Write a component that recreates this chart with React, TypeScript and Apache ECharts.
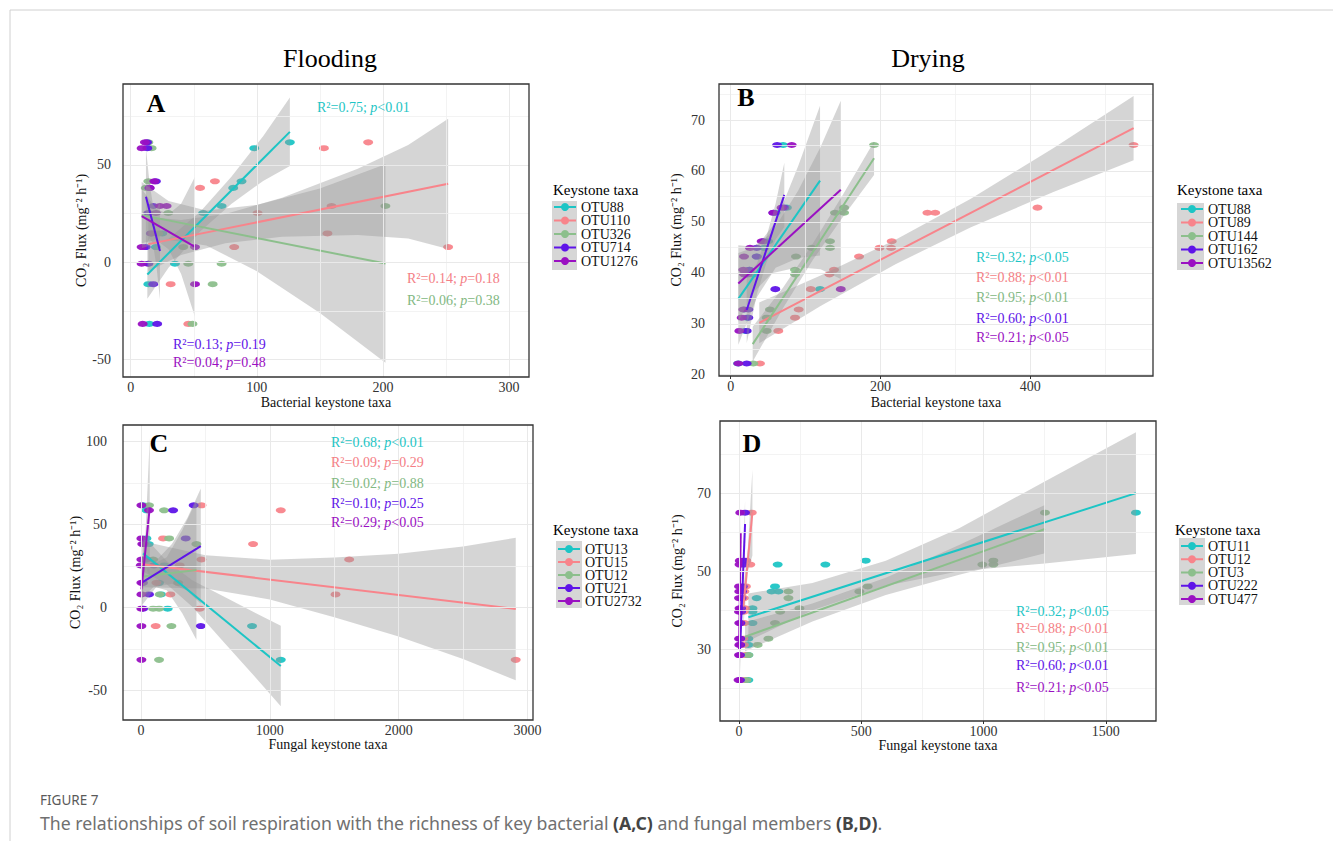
import React, { useEffect, useRef } from 'react';
import * as echarts from 'echarts';

const SERIF = '"Liberation Serif", "Times New Roman", serif';
const SANS = '"Noto Sans", "Open Sans", sans-serif';
const COLORS = ['#1DC5C5', '#F8848B', '#8CBF8C', '#5E14E8', '#9A10C2'];
const TEXT_COLORS = ['#1DC5C5', '#F47E85', '#82B882', '#5E14E8', '#9A10C2'];
const BAND_FILL = 'rgba(150,150,150,0.4)';

// ---------- Panel A: Flooding, bacterial ----------
const taxaA = ['OTU88', 'OTU110', 'OTU326', 'OTU714', 'OTU1276'];
const pointsA = [
  [[126.2, 61.6], [98, 58.6], [87.9, 41.6], [81.3, 38.2], [72.1, 28.9], [57.5, 25.3], [25, 14.8], [20, 7.8], [35.1, -0.8], [14, -11.3], [14.8, -31.7]],
  [[188.3, 61.6], [153.2, 58.6], [66.8, 41.6], [55, 38.2], [159.3, 28.9], [100.6, 25.3], [156, 14.8], [82.1, 7.8], [251.7, 7.8], [14, -0.8], [31.7, -11.3], [45.7, -31.7]],
  [[14, 61.6], [16.6, 58.6], [14, 41.6], [12, 38.2], [202, 28.9], [29.8, 25.3], [22, 14.8], [41.7, 7.8], [45.7, -0.8], [72.1, -0.8], [65, -11.3], [49, -31.7]],
  [[13, 61.6], [13.2, 58.6], [20, 41.6], [15, 38.2], [18, 28.9], [14, 25.3], [16, 14.8], [12, 7.8], [14, -0.8], [17.9, -11.3], [21, -31.7]],
  [[11.3, 61.6], [8.7, 58.6], [18.7, 41.6], [15, 38.2], [28.5, 28.9], [23.2, 28.9], [20, 25.3], [16.6, 14.8], [8.7, 7.8], [51, 7.8], [8.7, -0.8], [51, -11.3], [9.5, -31.7]],
];
const linesA = [
  [[13.2, -6.3], [126.2, 67]],
  [[14, 9.3], [251.7, 40.3]],
  [[8.7, 24.2], [202, -0.7]],
  [[12.1, 33.6], [23.2, 5.8]],
  [[8.7, 23.7], [51, 7.9]],
];
const bandsA = [
  [[13.2, -18.8, 6.2], [30, -2.9, 12.1], [55, 15.8, 25.8], [80, 30, 44], [105, 41.8, 64.8], [126.2, 49.4, 84.6]],
  [[14, -4.7, 23.3], [40, 3.7, 21.7], [75, 9.8, 24.8], [120, 13.1, 33.1], [180, 14, 48], [220, 12.2, 60.2], [251.7, 6.8, 73.8]],
  [[8.7, 7.2, 41.2], [30, 11.5, 31.5], [60, 8.6, 26.6], [100, -4.6, 29.4], [150, -26.1, 37.9], [202, -51.7, 50.3]],
  [[12.1, 8.6, 58.6], [15, 12.3, 40.3], [17.6, 9.8, 29.8], [20.5, -2.4, 27.6], [23.2, -19.2, 30.8]],
  [[8.7, 9.7, 37.7], [20, 11.5, 27.5], [30, 6.7, 24.7], [40, -6, 30], [51, -28.1, 43.9]],
];
const statsA = [['0.75', '<0.01'], ['0.14', '=0.18'], ['0.06', '=0.38'], ['0.13', '=0.19'], ['0.04', '=0.48']];
const xTicksA = [0, 100, 200, 300];
const xMinorA = [50, 150, 250];
const yTicksA = [-50, 0, 50];
const yMinorA = [-25, 25, 75];

// ---------- Panel B: Drying, bacterial ----------
const taxaB = ['OTU88', 'OTU89', 'OTU144', 'OTU162', 'OTU13562'];
const pointsB = [
  [[119.3, 36.8], [60, 51.8], [75, 52.8], [45, 44.9], [25, 40.6], [20, 28.6], [10, 22.2], [35, 43.2], [50, 46.2], [70, 65.1], [30, 39.7], [22, 31.2], [18, 32.8]],
  [[537.9, 65.1], [409.6, 52.8], [262.7, 51.8], [273, 51.8], [215, 46.2], [214.2, 44.9], [198.6, 44.9], [171.4, 43.2], [138, 40.6], [131.8, 39.7], [106.9, 36.8], [90.8, 32.8], [85.9, 31.2], [63.6, 28.6], [39.1, 22.2]],
  [[191.4, 65.1], [151.4, 52.8], [139.3, 51.8], [151.4, 51.8], [132.6, 46.2], [132.6, 44.9], [108.2, 44.9], [87.2, 43.2], [85.9, 40.6], [85.9, 39.7], [52.5, 32.8], [48.1, 31.2], [48.1, 28.6], [30.2, 22.2]],
  [[62, 65.1], [59.6, 36.8], [21.4, 22.2], [21.4, 28.6], [23.6, 31.2], [23.6, 32.8], [34.7, 43.2], [34.7, 44.9], [43.6, 46.2], [57, 51.8], [71.6, 52.8], [25, 40.6], [22, 39.7]],
  [[81.5, 65.1], [147, 36.8], [10.2, 22.2], [11.6, 28.6], [14.7, 31.2], [16.9, 32.8], [17.8, 39.7], [16.9, 40.6], [17.8, 43.2], [25.8, 44.9], [41.4, 46.2], [57, 51.8], [68, 52.8]],
];
const linesB = [
  [[10.2, 34.9], [119.3, 58.1]],
  [[38.2, 30.2], [537.9, 68.4]],
  [[29.4, 26.0], [191.4, 62.5]],
  [[21.4, 32.7], [71.6, 55.3]],
  [[10.2, 37.9], [147, 56.3]],
];
const bandsB = [
  [[10.2, 25.9, 43.9], [35, 35.2, 45.2], [60, 41, 50], [90, 42.9, 60.9], [119.3, 43.4, 72.8]],
  [[38.2, 26.2, 34.2], [120, 33.5, 39.5], [220, 41.7, 46.5], [320, 48.9, 54.5], [430, 55.8, 64.4], [537.9, 62.1, 74.7]],
  [[29.4, 22.6, 29.4], [70, 33.1, 37.1], [110, 42.6, 45.8], [150, 51, 55.4], [191.4, 59.2, 65.8]],
  [[21.4, 26.2, 39.2], [35, 35.8, 41.8], [47, 41.7, 46.7], [60, 46.6, 53.6], [71.6, 49, 61.6]],
  [[10.2, 30.4, 45.4], [30, 36.1, 45.1], [55, 39.9, 47.9], [90, 41.1, 56.1], [120, 40.7, 64.7], [147, 38.8, 73.8]],
];
const statsB = [['0.32', '<0.05'], ['0.88', '<0.01'], ['0.95', '<0.01'], ['0.60', '<0.01'], ['0.21', '<0.05']];
const xTicksB = [0, 200, 400];
const xMinorB = [100, 300, 500];
const yTicksB = [20, 30, 40, 50, 60, 70];
const yMinorB = [25, 35, 45, 55, 65, 75];

// ---------- Panel C: Flooding, fungal ----------
const taxaC = ['OTU13', 'OTU15', 'OTU12', 'OTU21', 'OTU2732'];
const pointsC = [
  [[1085, -31.7], [862, -11.3], [207, -0.8], [42, 58.6], [42, 41.6], [140, 14.8], [155, 7.8], [30, 28.9], [180, 25.3], [16, 61.6], [60, 38.2]],
  [[1085, 58.6], [870, 38.2], [1616, 28.9], [1510, 7.8], [2909, -31.7], [171, 41.6], [469, 28.9], [456, -0.8], [114, -11.3], [228, 7.8], [300, 25.3], [120, 14.8], [470, 61.6]],
  [[62, 61.6], [179, 58.6], [218, 41.6], [430, 38.2], [140, -0.8], [94, -0.8], [236, -11.3], [140, -31.7], [145, 7.8], [94, 28.9], [288, 14.8]],
  [[249, 58.6], [409, 61.6], [347, 41.6], [464, -11.3], [62, 7.8], [16, -0.8], [15, 14.8], [20, 38.2], [40, 28.9], [100, 25.3]],
  [[3, 61.6], [3, 41.6], [3, 28.9], [-2, 25.3], [3, 14.8], [3, 7.8], [3, -0.8], [3, -11.3], [3, -31.7], [62, 58.6], [10, 38.2]],
];
const linesC = [
  [[16, 32.6], [1085, -35.4]],
  [[3, 26.1], [2909, -1.0]],
  [[3, 18.5], [430, 22.5]],
  [[3, 14.8], [464, 37]],
  [[3, 10.9], [67.6, 60.3]],
];
const bandsC = [
  [[16, 21.6, 43.6], [200, 13.9, 27.9], [400, 0.2, 16.2], [650, -21.7, 6.3], [870, -40.7, -2.7], [1085, -59.7, -11.1]],
  [[3, 12.1, 40.1], [500, 11.4, 31.4], [1000, 4.8, 28.8], [1500, -5.9, 30.1], [2000, -17.6, 32.4], [2500, -31.2, 36.8], [2909, -44, 42]],
  [[3, 5.5, 31.5], [100, 12.4, 26.4], [200, 10.3, 30.3], [320, -3.5, 46.5], [430, -19.5, 64.5]],
  [[3, 0.8, 28.8], [120, 12.4, 28.4], [240, 14.2, 38.2], [360, 10, 54], [464, 2.2, 71.8]],
  [[3, -6.1, 27.9], [20, 14.9, 32.9], [35, 25.4, 45.4], [50, 21.8, 71.8], [67.6, 18.3, 102.3]],
];
const statsC = [['0.68', '<0.01'], ['0.09', '=0.29'], ['0.02', '=0.88'], ['0.10', '=0.25'], ['0.29', '<0.05']];
const xTicksC = [0, 1000, 2000, 3000];
const xMinorC = [500, 1500, 2500];
const yTicksC = [-50, 0, 50, 100];
const yMinorC = [-25, 25, 75];

// ---------- Panel D: Drying, fungal ----------
const taxaD = ['OTU11', 'OTU12', 'OTU3', 'OTU222', 'OTU477'];
const pointsD = [
  [[1623, 65.1], [518, 52.8], [353, 51.8], [158, 51.8], [147, 46.2], [133, 44.9], [161, 44.9], [72, 43.2], [55, 40.6], [55, 39.7], [55, 36.8], [38, 32.8], [38, 31.2], [38, 28.6], [38, 22.2]],
  [[52, 65.1], [46, 51.8], [30, 52.8], [28, 46.2], [22, 44.9], [20, 43.2], [25, 40.6], [20, 39.7], [22, 36.8], [18, 32.8], [20, 31.2], [25, 28.6], [18, 22.2]],
  [[1251, 65.1], [1040, 52.8], [1040, 51.8], [995, 51.8], [526, 46.2], [492, 44.9], [202, 44.9], [202, 43.2], [247, 40.6], [168, 39.7], [147, 36.8], [120, 32.8], [76, 31.2], [38, 28.6], [31, 22.2]],
  [[24.5, 65.1], [20, 52.8], [18, 51.8], [15, 46.2], [12, 44.9], [10, 43.2], [8, 40.6], [8, 39.7], [6, 36.8], [5, 32.8], [5, 31.2], [4, 28.6], [4, 22.2]],
  [[5, 65.1], [3, 52.8], [2, 51.8], [0, 46.2], [1, 44.9], [0, 43.2], [2, 40.6], [0, 39.7], [1, 36.8], [0, 32.8], [1, 31.2], [0, 28.6], [-2, 22.2]],
];
const linesD = [
  [[38, 38.3], [1623, 70.1]],
  [[17.7, 41.0], [54.5, 65.1]],
  [[24.5, 33.3], [1251, 60.9]],
  [[4, 30], [24.5, 62.2]],
  [[0, 29.9], [6.8, 59.8]],
];
const bandsD = [
  [[38, 32.2, 44.4], [300, 40.1, 47.1], [600, 46.4, 52.8], [900, 50.1, 61.1], [1250, 52.1, 73.1], [1623, 54.5, 85.7]],
  [[17.7, 36, 46], [36, 50, 56], [54.5, 54.1, 76.1]],
  [[24.5, 29.6, 37], [300, 37.2, 41.8], [600, 44, 48.4], [900, 49.2, 56.8], [1251, 54.7, 67.1]],
  [[4, 24, 36], [14, 42.7, 48.7], [24.5, 56.2, 68.2]],
  [[0, 23.9, 35.9], [3.4, 41.9, 47.9], [6.8, 53.8, 65.8]],
];
const statsD = [['0.32', '<0.05'], ['0.88', '<0.01'], ['0.95', '<0.01'], ['0.60', '<0.01'], ['0.21', '<0.05']];
const xTicksD = [0, 500, 1000, 1500];
const xMinorD = [250, 750, 1250];
const yTicksD = [30, 50, 70];
const yMinorD = [20, 40, 60, 80];

// ---------- layout ----------
const PANELS: any[] = [
  {
    taxa: taxaA, pts: pointsA, lines: linesA, bands: bandsA, stats: statsA,
    xTicks: xTicksA, xMinor: xMinorA, yTicks: yTicksA, yMinor: yMinorA,
    grid: { left: 123, top: 84, width: 406, height: 293 }, xr: [-6.1, 315.8], yr: [-59, 91.6],
    xName: 'Bacterial keystone taxa', xGap: 18, yMargin: 12, yGap: 35,
    letter: 'A', letterPos: [156, 103],
    statPos: [[317, 107], [407, 278], [407, 300], [173, 344], [173, 362]],
    legend: { left: 553, top: 200, gap: -0.5, titleX: 553, titleY: 190, key: [552, 201, 25, 69] },
  },
  {
    taxa: taxaB, pts: pointsB, lines: linesB, bands: bandsB, stats: statsB,
    xTicks: xTicksB, xMinor: xMinorB, yTicks: yTicksB, yMinor: yMinorB,
    grid: { left: 719, top: 84, width: 434, height: 292 }, xr: [-15.6, 563.8], yr: [19.75, 77.07],
    xName: 'Bacterial keystone taxa', xGap: 19, yMargin: 14, yGap: 36,
    letter: 'B', letterPos: [746, 97],
    statPos: [[976, 257], [976, 277], [976, 297], [976, 318], [976, 337]],
    legend: { left: 1180, top: 202, gap: -0.5, titleX: 1177, titleY: 190, key: [1177, 203, 27, 67] },
  },
  {
    taxa: taxaC, pts: pointsC, lines: linesC, bands: bandsC, stats: statsC,
    xTicks: xTicksC, xMinor: xMinorC, yTicks: yTicksC, yMinor: yMinorC,
    grid: { left: 123, top: 425, width: 410, height: 295 }, xr: [-140, 3043], yr: [-68, 110.1],
    xName: 'Fungal keystone taxa', xGap: 16, yMargin: 16, yGap: 35,
    letter: 'C', letterPos: [159, 443],
    statPos: [[331, 442], [331, 462], [331, 483], [331, 503], [331, 522]],
    legend: { left: 557, top: 542, gap: -1, titleX: 553, titleY: 530, key: [556, 541, 26, 67] },
  },
  {
    taxa: taxaD, pts: pointsD, lines: linesD, bands: bandsD, stats: statsD,
    xTicks: xTicksD, xMinor: xMinorD, yTicks: yTicksD, yMinor: yMinorD,
    grid: { left: 720, top: 421, width: 436, height: 300 }, xr: [-78, 1705], yr: [11.7, 88.6],
    xName: 'Fungal keystone taxa', xGap: 17, yMargin: 9, yGap: 36,
    letter: 'D', letterPos: [752, 443],
    statPos: [[1016, 611], [1016, 628], [1016, 647], [1016, 665], [1016, 687]],
    legend: { left: 1180, top: 539, gap: -0.75, titleX: 1175, titleY: 530, key: [1179, 538, 26, 67] },
  },
];

function text(x: number, y: number, t: string, o: any = {}) {
  return {
    type: 'text', x, y, silent: true, z: o.z ?? 10,
    style: {
      text: t, fill: o.fill ?? '#000', fontFamily: o.fontFamily ?? SERIF, fontSize: o.fontSize ?? 14,
      fontWeight: o.fontWeight ?? 'normal', rich: o.rich,
      textAlign: o.align ?? 'left', align: o.align ?? 'left',
      textVerticalAlign: 'middle', verticalAlign: 'middle',
    },
  };
}

const plainNumber = (v: number) => String(v);

function buildOption() {
  const grid: any[] = [];
  const xAxis: any[] = [];
  const yAxis: any[] = [];
  const series: any[] = [];
  const legend: any[] = [];
  const graphic: any[] = [
    { type: 'line', silent: true, shape: { x1: 10, y1: 10, x2: 1333, y2: 10 }, style: { stroke: '#d0d0d0', lineWidth: 1 } },
    { type: 'line', silent: true, shape: { x1: 10, y1: 10, x2: 10, y2: 841 }, style: { stroke: '#d0d0d0', lineWidth: 1 } },
    text(330, 58, 'Flooding', { fontSize: 26, align: 'center' }),
    text(928, 58, 'Drying', { fontSize: 26, align: 'center' }),
    text(40, 800, 'FIGURE 7', { fontFamily: SANS, fontSize: 13.5, fill: '#5a5a5a' }),
    text(40, 823, '{n|The relationships of soil respiration with the richness of key bacterial }{b|(A,C)}{n| and fungal members }{b|(B,D)}{n|.}', {
      fontFamily: SANS,
      rich: {
        n: { fontFamily: SANS, fontSize: 17.7, fill: '#707070' },
        b: { fontFamily: SANS, fontSize: 17.7, fill: '#444', fontWeight: 'bold' },
      },
    }),
  ];

  PANELS.forEach((p, g) => {
    grid.push({ ...p.grid, show: true, borderColor: '#333', borderWidth: 1.3, backgroundColor: 'transparent', z: 6 });
    xAxis.push({
      type: 'value', gridIndex: g, min: p.xr[0], max: p.xr[1],
      axisLine: { show: false },
      axisTick: { show: true, length: 3, customValues: p.xTicks, lineStyle: { color: '#333' } },
      axisLabel: { customValues: p.xTicks, formatter: plainNumber, margin: 3, fontFamily: SERIF, fontSize: 14, color: '#333' },
      splitLine: { show: false },
      name: p.xName, nameLocation: 'middle', nameGap: p.xGap,
      nameTextStyle: { fontFamily: SERIF, fontSize: 14, color: '#111' },
    });
    yAxis.push({
      type: 'value', gridIndex: g, min: p.yr[0], max: p.yr[1],
      axisLine: { show: false },
      axisTick: { show: true, length: 4, customValues: p.yTicks, lineStyle: { color: '#333' } },
      axisLabel: { customValues: p.yTicks, formatter: plainNumber, margin: p.yMargin, fontFamily: SERIF, fontSize: 14, color: '#333' },
      splitLine: { show: false },
      name: 'CO₂ Flux (mg⁻² h⁻¹)', nameLocation: 'middle', nameGap: p.yGap, nameRotate: 90,
      nameTextStyle: { fontFamily: SERIF, fontSize: 14, color: '#111' },
    });

    const major = { color: '#E9E9E9', width: 1, type: 'solid' };
    const minor = { color: '#F0F0F0', width: 0.8, type: 'solid' };
    series.push({
      type: 'scatter', xAxisIndex: g, yAxisIndex: g, data: [], z: 1, silent: true,
      markLine: {
        silent: true, symbol: ['none', 'none'], label: { show: false }, animation: false,
        data: [
          ...p.xMinor.map((v: number) => ({ xAxis: v, lineStyle: minor })),
          ...p.yMinor.map((v: number) => ({ yAxis: v, lineStyle: minor })),
          ...p.xTicks.map((v: number) => ({ xAxis: v, lineStyle: major })),
          ...p.yTicks.map((v: number) => ({ yAxis: v, lineStyle: major })),
        ],
      },
    });

    p.taxa.forEach((name: string, i: number) => {
      series.push({
        type: 'scatter', xAxisIndex: g, yAxisIndex: g, z: 2, silent: true,
        symbol: 'circle', symbolSize: [10, 6],
        itemStyle: { color: COLORS[i], opacity: 0.95 },
        data: p.pts[i],
      });
    });
    p.taxa.forEach((name: string, i: number) => {
      const band = p.bands[i];
      series.push({
        type: 'custom', xAxisIndex: g, yAxisIndex: g, z: 3, silent: true,
        data: band,
        renderItem: (params: any, api: any) => {
          if (params.dataIndex !== 0) return null;
          const up = band.map((r: number[]) => api.coord([r[0], r[2]]));
          const lo = band.map((r: number[]) => api.coord([r[0], r[1]])).reverse();
          return { type: 'polygon', shape: { points: up.concat(lo) }, style: { fill: BAND_FILL } };
        },
      });
    });
    p.taxa.forEach((name: string, i: number) => {
      series.push({
        type: 'line', name, xAxisIndex: g, yAxisIndex: g, z: 4, silent: true,
        symbol: 'circle', showSymbol: false, symbolSize: 8,
        lineStyle: { color: COLORS[i], width: 2 }, itemStyle: { color: COLORS[i] },
        data: p.lines[i],
      });
    });

    const legendText = { fontFamily: SERIF, fontSize: 14, color: '#111' };
    legend.push({
      left: p.legend.left, top: p.legend.top, orient: 'vertical', padding: 0,
      itemWidth: 22, itemHeight: 10, itemGap: p.legend.gap, selectedMode: false,
      textStyle: legendText,
      data: p.taxa.map((n: string, i: number) => ({
        name: n, textStyle: legendText,
        itemStyle: { color: COLORS[i] }, lineStyle: { color: COLORS[i], width: 2 },
      })),
    });

    graphic.push({
      type: 'rect', silent: true, z: 0,
      shape: { x: p.legend.key[0], y: p.legend.key[1], width: p.legend.key[2], height: p.legend.key[3] },
      style: { fill: '#D6D6D6' },
    });
    graphic.push(text(p.legend.titleX, p.legend.titleY, 'Keystone taxa', { fontSize: 15 }));
    graphic.push(text(p.letterPos[0], p.letterPos[1], p.letter, { fontSize: 26, fontWeight: 'bold', align: 'center' }));
    p.stats.forEach((s: string[], i: number) => {
      const c = TEXT_COLORS[i];
      graphic.push(text(p.statPos[i][0], p.statPos[i][1], `{n|R²=${s[0]}; }{i|p}{n|${s[1]}}`, {
        fill: c,
        rich: {
          n: { fontFamily: SERIF, fontSize: 14, fill: c },
          i: { fontFamily: SERIF, fontSize: 14, fill: c, fontStyle: 'italic' },
        },
      }));
    });
  });

  return { animation: false, backgroundColor: '#fff', grid, xAxis, yAxis, series, legend, graphic };
}

export default function App() {
  const ref = useRef<HTMLDivElement>(null);
  useEffect(() => {
    const chart = echarts.init(ref.current as HTMLDivElement, null, { renderer: 'svg' });
    chart.setOption(buildOption() as any);
    return () => chart.dispose();
  }, []);
  return (
    <div
      ref={ref}
      style={{ position: 'fixed', left: 0, top: 0, width: 1333, height: 841, background: '#fff' }}
    />
  );
}
